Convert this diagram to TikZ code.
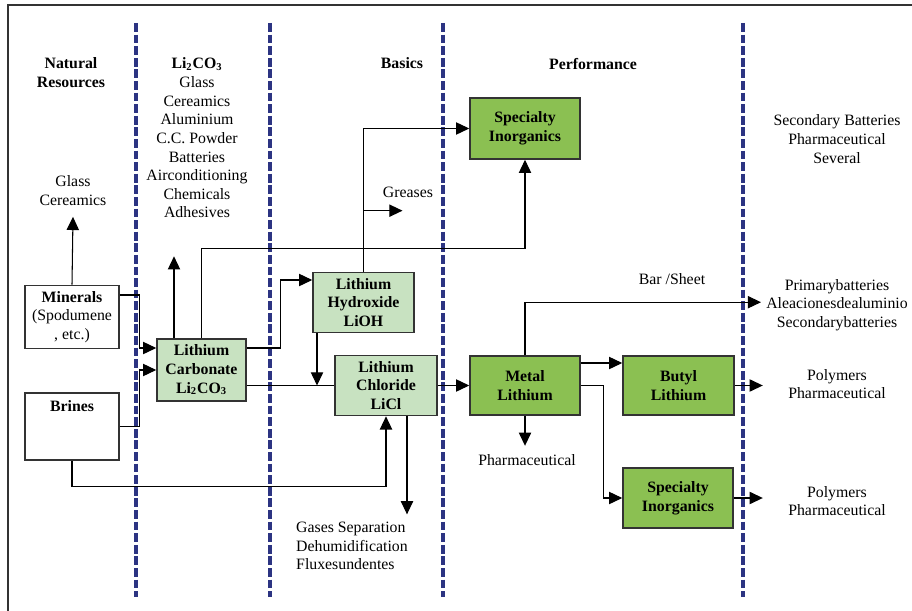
\documentclass[tikz,border=0pt]{standalone}
\usepackage{fontspec}
\setmainfont{Liberation Serif}
\usetikzlibrary{arrows.meta,positioning}

\definecolor{paleleaf}{RGB}{200,226,193}
\definecolor{leaf}{RGB}{139,192,82}
\definecolor{navyline}{RGB}{44,52,130}

\begin{document}
\begin{tikzpicture}[
    x=0.02cm, y=-0.02cm,
    every node/.style={font=\fontsize{9}{10.6}\selectfont, align=center},
    >={Triangle[length=7.5pt,width=7pt]},
    line/.style={line width=0.6pt, black},
    arr/.style={->, line width=0.6pt, black},
    plainbox/.style={draw=black!80, line width=0.9pt, fill=white},
    palebox/.style={draw=black!80, line width=0.9pt, fill=paleleaf, font=\fontsize{9}{10.6}\selectfont\bfseries},
    leafbox/.style={draw=black!80, line width=0.9pt, fill=leaf, font=\fontsize{9}{10.6}\selectfont\bfseries},
    head/.style={font=\fontsize{9}{10.6}\selectfont\bfseries},
]
\useasboundingbox (0,0) rectangle (912,611);

% Parameters
\def\septop{23}
\def\sepbot{597}

% === Frame ===
\draw[line width=0.6pt, black!80] (8,620) -- (8,5) -- (920,5);

% === Column separators ===
\foreach \xs in {136,270,443,743} {
    \draw[navyline, line width=2pt, dash pattern=on 5pt off 1.6pt] (\xs,\septop) -- (\xs,\sepbot);
}

% === Column headings ===
\node[head] (natres) at (71,72.5) {Natural\\Resources};
\node (licoHead) at (197,138) {\textbf{Li\textsubscript{2}CO\textsubscript{3}}\\Glass\\Cereamics\\Aluminium\\C.C. Powder\\Batteries\\Airconditioning\\Chemicals\\Adhesives};
\node[head] (basics) at (402,63) {Basics};
\node[head] (perf) at (593,64) {Performance};

% === Boxes ===
\node[plainbox, minimum width=1.88cm, minimum height=1.2cm, font=\fontsize{9}{10.6}\selectfont] (minerals) at (72,317) {\textbf{Minerals}\\(Spodumene\\, etc.)};
\node[plainbox, minimum width=1.88cm, minimum height=1.34cm] (brines) at (72,426.5) {};
\node[head, below=1pt of brines.north] (brinesLbl) {Brines};
\node[palebox, minimum width=1.78cm, minimum height=1.2cm] (carbonate) at (201.5,370) {Lithium\\Carbonate\\Li\textsubscript{2}CO\textsubscript{3}};
\node[palebox, minimum width=2.02cm, minimum height=1.18cm] (hydroxide) at (363.5,302.5) {Lithium\\Hydroxide\\LiOH};
\node[palebox, minimum width=2.04cm, minimum height=1.18cm] (chloride) at (386,385.5) {Lithium\\Chloride\\LiCl};
\node[leafbox, minimum width=2.2cm, minimum height=1.22cm] (specTop) at (525,128.5) {Specialty\\Inorganics};
\node[leafbox, minimum width=2.2cm, minimum height=1.18cm] (metal) at (525,385.5) {Metal\\Lithium};
\node[leafbox, minimum width=2.22cm, minimum height=1.18cm] (butyl) at (678.5,385.5) {Butyl\\Lithium};
\node[leafbox, minimum width=2.2cm, minimum height=1.2cm] (specBot) at (678,498) {Specialty\\Inorganics};

% === Uses ===
\node (glassOut) at (73,190.5) {Glass\\Cereamics};
\node (greases) at (408,192) {Greases};
\node[align=left, anchor=west] (gasesOut) at (290,546) {Gases Separation\\Dehumidification\\Fluxesundentes};
\node (barSheet) at (672,279) {Bar /Sheet};
\node (pharmOut) at (527,460) {Pharmaceutical};
\node (batOut) at (837,139) {Secondary Batteries\\Pharmaceutical\\Several};
\node (alloyOut) at (837,305) {Primarybatteries\\Aleacionesdealuminio\\Secondarybatteries};
\node (polyOutA) at (837,384) {Polymers\\Pharmaceutical};
\node (polyOutB) at (837,501) {Polymers\\Pharmaceutical};

% === Connectors: natural resources ===
\draw[arr] (minerals.north) -- ([yshift=-3pt]glassOut.south);
\draw[arr] ([yshift=0.44cm]minerals.east) -- ++(20,0) |- ([yshift=0.44cm]carbonate.west);
\draw[arr] (brines.east) -- ++(20,0) |- (carbonate.west);
\draw[arr] (brines.south) -- ++(0,26) -| (chloride.south);

% === Connectors: basics ===
\draw[arr] ([xshift=-0.55cm]carbonate.north) -- ++(0,-82);
\draw[arr] (carbonate.north) -- ++(0,-90) -| (specTop.south);
\draw[arr] ([yshift=0.44cm]carbonate.east) -- ++(34,0) |- ([yshift=0.45cm]hydroxide.west);
\draw[line] (carbonate.east |- chloride.west) -- (chloride.west);
\draw[arr] ([xshift=-0.93cm]hydroxide.south) -- ([xshift=-0.93cm]hydroxide.south |- chloride.west);
\draw[arr] (hydroxide.north) |- (specTop.west);
\draw[arr] ([yshift=1.22cm]hydroxide.north) -- ++(39,0);
\draw[arr] ([xshift=0.42cm]chloride.south) -- ++(0,98);
\draw[arr] (chloride) -- (metal);

% === Connectors: performance ===
\draw[arr] (metal.north) -- ++(0,-53) -- ++(236,0);
\draw[arr] ([yshift=0.45cm]metal.east) -- ([yshift=0.45cm]butyl.west);
\draw[arr] (metal.east) -- ++(23,0) |- (specBot.west);
\draw[arr] (metal.south) -- ++(0,30);
\draw[arr] (butyl.east) -- ++(28,0);
\draw[arr] (specBot.east) -- ++(29,0);

\end{tikzpicture}
\end{document}
